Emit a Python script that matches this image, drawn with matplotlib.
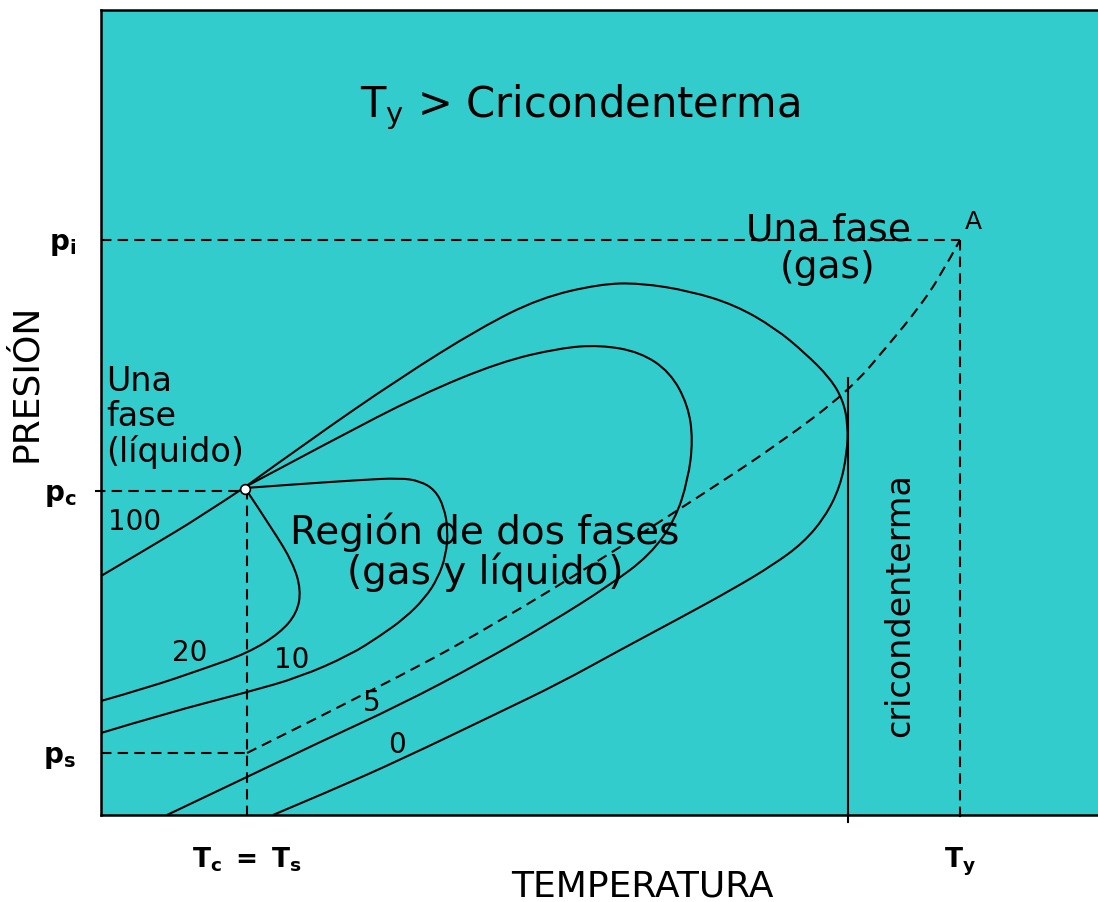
import matplotlib.pyplot as plt
from matplotlib.path import Path
from matplotlib.patches import PathPatch

# phase envelope sketch, units are arbitrary (T, P)
# bubble point line (100 % liquid)
t_100 = [0, 49, 99, 144]
p_100 = [239, 268, 298, 328]

# outer envelope = dew point line (0 % liquid)
t_0 = [144, 209, 299, 379, 439, 499, 539, 589, 634, 674, 704, 729, 742, 747, 746,
       739, 724, 702, 672, 632, 579, 519, 459, 399, 299, 229, 172]
p_0 = [328, 375, 437, 487, 517, 531, 532, 524, 510, 487, 462, 437, 415, 390, 362,
       328, 298, 272, 250, 226, 197, 165, 132, 103, 55, 24, 0]

# 5 % liquid
t_5 = [144, 232, 319, 399, 459, 499, 539, 569, 587, 592, 587, 574, 549, 509, 449,
       379, 299, 219, 146, 66]
p_5 = [328, 375, 420, 453, 467, 470, 463, 443, 410, 375, 335, 295, 260, 230, 192,
       152, 110, 73, 38, 0]

# 10 % liquid
t_10 = [144, 199, 259, 299, 319, 334, 343, 347, 345, 337, 324, 304, 279, 249, 199,
        147, 66, 0]
p_10 = [327, 331, 335, 337, 334, 325, 308, 285, 260, 237, 217, 197, 179, 160, 138,
        123, 102, 82]

# 20 % liquid
t_20 = [144, 172, 192, 200, 196, 179, 147, 99, 49, 0]
p_20 = [327, 285, 252, 225, 202, 182, 162, 145, 128, 114]

# isothermal depletion path to point A (dashed)
t_path = [146, 299, 399, 499, 599, 679, 749, 789, 816, 839, 859]
p_path = [62, 138, 194, 255, 319, 372, 425, 472, 505, 538, 575]

t_crit, p_crit = 144, 326
p_ticks = [575, 324, 62]
p_tick_labels = [r'$\mathbf{p_i}$', r'$\mathbf{p_c}$', r'$\mathbf{p_s}$']
t_ticks = [146, 859]
t_tick_labels = [r'$\mathbf{T_c\ =\ T_s}$', r'$\mathbf{T_y}$']
t_cricond = 747

quality_labels = ['100', '20', '10', '5', '0']
quality_t = [34, 89, 191, 271, 296]
quality_p = [293, 162, 155, 112, 70]

teal = '#33CCCC'


def smooth_curve(ax, t, p, **kw):
    # quadratic b-spline through the traced points as control points
    pts = list(zip(t, p))
    verts = [pts[0]]
    codes = [Path.MOVETO]
    for i in range(1, len(pts) - 1):
        if i < len(pts) - 2:
            end = ((pts[i][0] + pts[i + 1][0]) / 2, (pts[i][1] + pts[i + 1][1]) / 2)
        else:
            end = pts[-1]
        verts += [pts[i], end]
        codes += [Path.CURVE3, Path.CURVE3]
    if len(pts) == 2:
        verts.append(pts[1])
        codes.append(Path.LINETO)
    ax.add_patch(PathPatch(Path(verts, codes), fill=False, **kw))


fig = plt.figure(figsize=(10.98, 9.02), dpi=100)
ax = fig.add_axes([101 / 1098, 87 / 902, 997 / 1098, 805 / 902])
ax.set_facecolor(teal)
ax.set_xlim(0, 997)
ax.set_ylim(0, 805)
for s in ['left', 'top', 'bottom']:
    ax.spines[s].set_linewidth(1.8)
ax.spines['right'].set_visible(False)

lw = 1.5
dash = (0, (5, 3))
for t, p in [(t_100, p_100), (t_0, p_0), (t_5, p_5), (t_10, p_10), (t_20, p_20)]:
    smooth_curve(ax, t, p, edgecolor='black', lw=lw)

smooth_curve(ax, t_path, p_path, edgecolor='black', lw=lw, ls=dash)
# reference dashed lines
ax.plot([0, t_ticks[1]], [p_ticks[0], p_ticks[0]], color='black', lw=lw, ls=dash)
ax.plot([t_ticks[1], t_ticks[1]], [p_ticks[0], -4], color='black', lw=lw, ls=dash, clip_on=False)
ax.plot([-6, t_crit], [p_ticks[1], p_ticks[1]], color='black', lw=lw, ls=dash, clip_on=False)
ax.plot([t_ticks[0], t_ticks[0]], [p_crit, 0], color='black', lw=lw, ls=dash)
ax.plot([0, t_ticks[0]], [p_ticks[2], p_ticks[2]], color='black', lw=lw, ls=dash)

# cricondentherm
ax.plot([t_cricond, t_cricond], [437, -7], color='black', lw=lw, clip_on=False)
ax.text(t_cricond + 52, 210, 'cricondenterma', rotation=90, fontsize=24,
        ha='center', va='center')

ax.plot([t_crit], [p_crit], marker='o', ms=7, mfc='white', mec='black', mew=1.2)

for lab, t, p in zip(quality_labels, quality_t, quality_p):
    ax.text(t, p, lab, fontsize=20, ha='center', va='center')

ax.text(479, 708, r'T$_\mathregular{y}$ > Cricondenterma', fontsize=30,
        ha='center', va='center')
ax.text(727, 566, 'Una fase\n(gas)', fontsize=27, ha='center', va='center',
        multialignment='center', linespacing=1.05)
ax.text(5, 398, 'Una\nfase\n(líquido)', fontsize=24, ha='left', va='center',
        linespacing=1.08)
ax.text(384, 263, 'Región de dos fases\n(gas y líquido)', fontsize=28,
        ha='center', va='center', multialignment='center', linespacing=1.0)
ax.text(872, 593, 'A', fontsize=18, ha='center', va='center')

ax.set_yticks(p_ticks, p_tick_labels, fontsize=20)
ax.set_xticks(t_ticks, t_tick_labels, fontsize=19)
ax.tick_params(axis='y', length=0, pad=18)
ax.tick_params(axis='x', length=0, pad=22)

ax.set_xlabel('TEMPERATURA', fontsize=26)
ax.set_ylabel('PRESIÓN', fontsize=26)
ax.xaxis.set_label_coords(0.543, -0.068)
ax.yaxis.set_label_coords(-0.058, 0.537)

fig.savefig('out.png', dpi=100)
